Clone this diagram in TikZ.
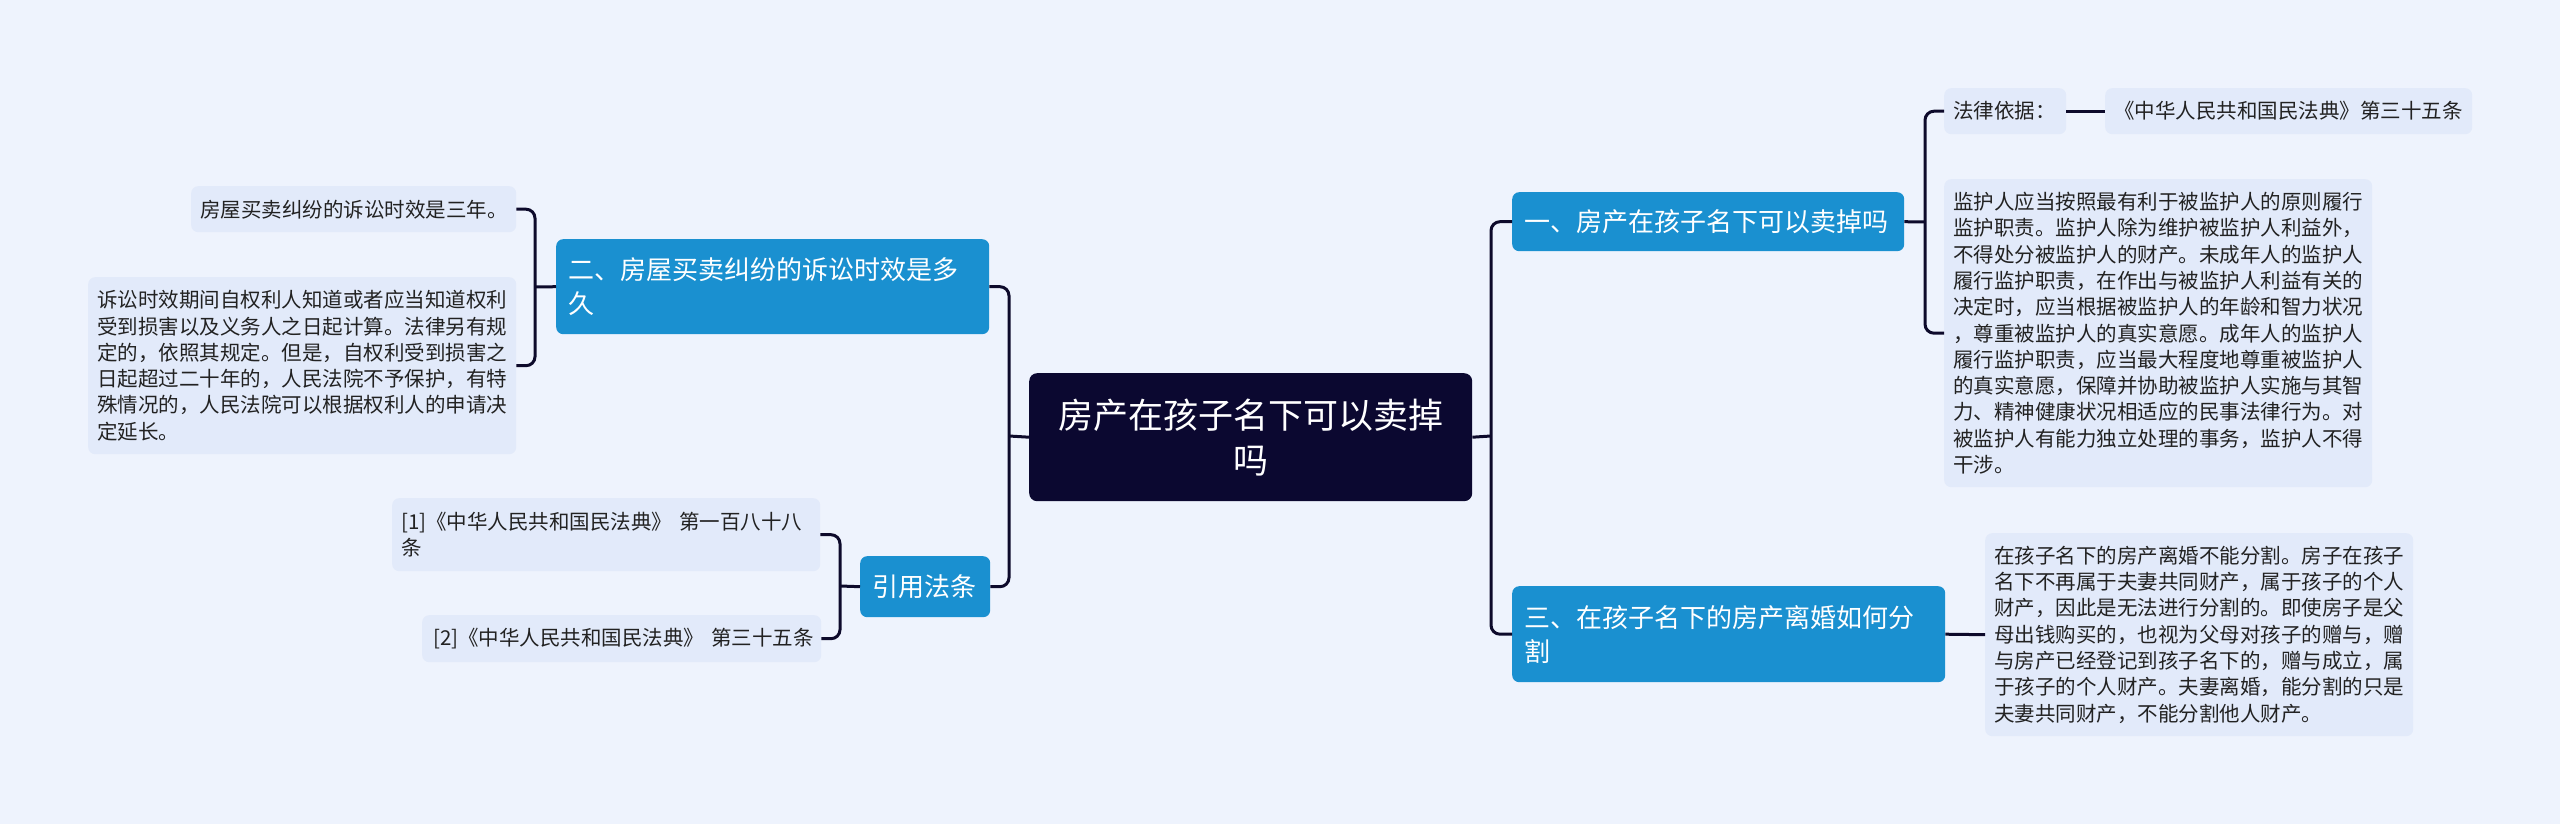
\documentclass[tikz,border=0pt]{standalone}
\usepackage{fontspec}
\setmainfont{Noto Sans CJK SC}
\definecolor{bgc}{HTML}{EEF3FD}
\definecolor{leafc}{HTML}{E2EAFA}
\definecolor{bluec}{HTML}{1A90D0}
\definecolor{rootc}{HTML}{0B0830}
\definecolor{linec}{HTML}{0D0A2B}
\definecolor{txt}{HTML}{222222}
\tikzset{
  leaf/.style={fill=leafc, rounded corners=7pt, text=txt, align=left,
    font=\fontsize{20.5}{26.3}\selectfont, inner xsep=9pt, inner ysep=0pt, anchor=north west},
  lvl/.style={fill=bluec, rounded corners=7pt, text=white, align=left,
    font=\fontsize{26}{34}\selectfont, inner xsep=12pt, inner ysep=0pt, anchor=north west},
  rootbox/.style={fill=rootc, rounded corners=8pt, text=white, align=center,
    font=\fontsize{35}{45}\selectfont, inner xsep=20pt, inner ysep=0pt, anchor=north west},
  conn/.style={draw=linec, line width=3pt, rounded corners=9pt}
}
\begin{document}
\begin{tikzpicture}[x=1pt,y=-1pt]
\fill[bgc] (0,0) rectangle (2560,824);
\useasboundingbox (0,0) rectangle (2560,824);

% root
\node[rootbox, text width=403pt, minimum height=128pt] (root) at (1029,373) {房产在孩子名下可以卖掉\\吗};

% right level-1
\node[lvl, text width=368pt, minimum height=59pt] (yi) at (1512,192) {一、房产在孩子名下可以卖掉吗};
\node[lvl, text width=409pt, minimum height=96pt] (san) at (1512,586) {三、在孩子名下的房产离婚如何分\\割};

% left level-1
\node[lvl, text width=409pt, minimum height=95pt] (er) at (556,239) {二、房屋买卖纠纷的诉讼时效是多\\久};
\node[lvl, text width=106pt, minimum height=61pt] (yin) at (860,556) {引用法条};

% right leaves
\node[leaf, text width=104pt, minimum height=46pt] (falv) at (1944,88) {法律依据：};
\node[leaf, text width=349pt, minimum height=46pt, inner xsep=9pt] (law) at (2105,88) {《中华人民共和国民法典》第三十五条};
\node[leaf, text width=410pt, minimum height=308pt] (jian) at (1944,179) {监护人应当按照最有利于被监护人的原则履行\\监护职责。监护人除为维护被监护人利益外，\\不得处分被监护人的财产。未成年人的监护人\\履行监护职责，在作出与被监护人利益有关的\\决定时，应当根据被监护人的年龄和智力状况\\，尊重被监护人的真实意愿。成年人的监护人\\履行监护职责，应当最大程度地尊重被监护人\\的真实意愿，保障并协助被监护人实施与其智\\力、精神健康状况相适应的民事法律行为。对\\被监护人有能力独立处理的事务，监护人不得\\干涉。};
\node[leaf, text width=410pt, minimum height=203pt] (sanleaf) at (1985,533) {在孩子名下的房产离婚不能分割。房子在孩子\\名下不再属于夫妻共同财产，属于孩子的个人\\财产，因此是无法进行分割的。即使房子是父\\母出钱购买的，也视为父母对孩子的赠与，赠\\与房产已经登记到孩子名下的，赠与成立，属\\于孩子的个人财产。夫妻离婚，能分割的只是\\夫妻共同财产，不能分割他人财产。};

% left leaves
\node[leaf, text width=307pt, minimum height=46pt] (l1) at (191,186) {房屋买卖纠纷的诉讼时效是三年。};
\node[leaf, text width=410pt, minimum height=177pt] (l2) at (88,277) {诉讼时效期间自权利人知道或者应当知道权利\\受到损害以及义务人之日起计算。法律另有规\\定的，依照其规定。但是，自权利受到损害之\\日起超过二十年的，人民法院不予保护，有特\\殊情况的，人民法院可以根据权利人的申请决\\定延长。};
\node[leaf, text width=410pt, minimum height=73pt] (c1) at (392,498) {[1]《中华人民共和国民法典》 第一百八十八\\条};
\node[leaf, text width=377pt, minimum height=47pt, inner xsep=11pt] (c2) at (422,615) {\mbox{[2]《中华人民共和国民法典》 第三十五条}};

% bus coordinates
\coordinate (bL) at (1009,436);
\coordinate (bR) at (1491,436);
\coordinate (b1) at (1925,222);
\coordinate (b2) at (535,287);
\coordinate (b3) at (840,586);

% connectors
\draw[conn] (root.west) -- (bL);
\draw[conn] (er.east) -| (bL) |- (yin.east);
\draw[conn] (root.east) -- (bR);
\draw[conn] (yi.west) -| (bR) |- (san.west);
\draw[conn] (yi.east) -- (b1);
\draw[conn] (falv.west) -| (b1) |- (jian.west);
\draw[conn] (falv.east) -- (law.west);
\draw[conn] (san.east) -- (sanleaf.west);
\draw[conn] (er.west) -- (b2);
\draw[conn] (l1.east) -| (b2) |- (l2.east);
\draw[conn] (yin.west) -- (b3);
\draw[conn] (c1.east) -| (b3) |- (c2.east);
\end{tikzpicture}
\end{document}
